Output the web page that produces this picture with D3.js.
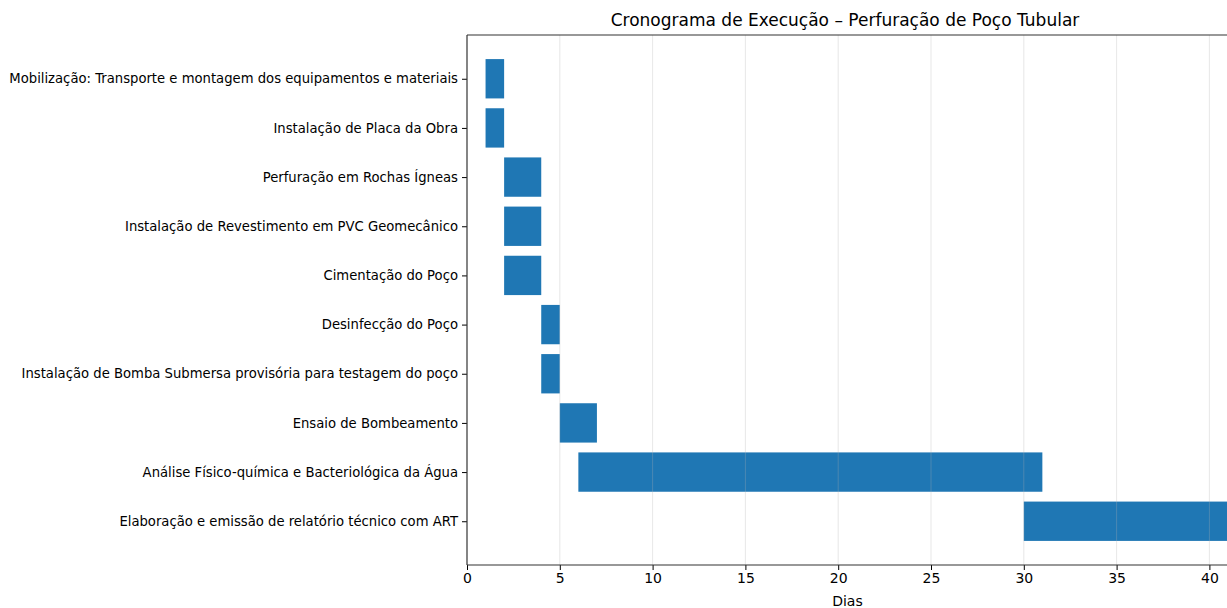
<!DOCTYPE html>
<html>
<head>
<meta charset="utf-8">
<script src="https://cdn.jsdelivr.net/npm/d3@7"></script>
<style>
  body { margin: 0; background: #fff; }
  svg { display: block; font-family: "DejaVu Sans", sans-serif; }
</style>
</head>
<body>
<div id="chart"></div>
<script>
// tarefas do cronograma (dias)
var tasks = [
  "Mobilização: Transporte e montagem dos equipamentos e materiais",
  "Instalação de Placa da Obra",
  "Perfuração em Rochas Ígneas",
  "Instalação de Revestimento em PVC Geomecânico",
  "Cimentação do Poço",
  "Desinfecção do Poço",
  "Instalação de Bomba Submersa provisória para testagem do poço",
  "Ensaio de Bombeamento",
  "Análise Físico-química e Bacteriológica da Água",
  "Elaboração e emissão de relatório técnico com ART"
];
var starts    = [1, 1, 2, 2, 2, 4, 4, 5, 6, 30];
var durations = [1, 1, 2, 2, 2, 1, 1, 2, 25, 15];
var xTicks = [0, 5, 10, 15, 20, 25, 30, 35, 40];

var W = 1227, H = 608;
var plotLeft = 467, plotTop = 35, plotBottom = 565;
var pxPerDay = 18.56;
var xMax = 47;

var svg = d3.select("#chart").append("svg")
  .attr("width", W)
  .attr("height", H);

var x = d3.scaleLinear()
  .domain([0, xMax])
  .range([plotLeft, plotLeft + xMax * pxPerDay]);

// eixo y invertido, margens de 5%
var y = d3.scaleLinear()
  .domain([-0.89, tasks.length - 1 + 0.89])
  .range([plotTop, plotBottom]);

var barH = 0.8;

// barras
svg.append("g")
  .selectAll("rect")
  .data(tasks)
  .enter().append("rect")
    .attr("x", function(d, i) { return x(starts[i]); })
    .attr("y", function(d, i) { return y(i - barH / 2); })
    .attr("width", function(d, i) { return x(starts[i] + durations[i]) - x(starts[i]); })
    .attr("height", y(barH) - y(0))
    .attr("fill", "#1f77b4");

// grade por cima, bem clara
svg.append("g")
  .selectAll("line")
  .data(xTicks.filter(function(t) { return t > 0; }))
  .enter().append("line")
    .attr("x1", function(d) { return x(d); })
    .attr("x2", function(d) { return x(d); })
    .attr("y1", plotTop)
    .attr("y2", plotBottom)
    .attr("stroke", "#b0b0b0")
    .attr("stroke-opacity", 0.3)
    .attr("stroke-width", 1);

// eixo x
var xAxis = svg.append("g")
  .attr("transform", "translate(0," + plotBottom + ")")
  .call(d3.axisBottom(x).tickValues(xTicks).tickSize(5).tickPadding(3));
xAxis.select(".domain").remove();
xAxis.selectAll("text").attr("font-size", 14).attr("fill", "#000").attr("font-family", "DejaVu Sans");
xAxis.selectAll("line").attr("stroke", "#000");

// eixo y
var yAxis = svg.append("g")
  .attr("transform", "translate(" + plotLeft + ",0)")
  .call(d3.axisLeft(y).tickValues(d3.range(tasks.length))
    .tickFormat(function(i) { return tasks[i]; })
    .tickSize(5).tickPadding(4));
yAxis.select(".domain").remove();
yAxis.selectAll("text").attr("font-size", 13.2).attr("fill", "#000").attr("font-family", "DejaVu Sans");
yAxis.selectAll("line").attr("stroke", "#000");

// bordas
svg.append("line")
  .attr("x1", plotLeft).attr("x2", W).attr("y1", plotTop).attr("y2", plotTop)
  .attr("stroke", "#333").attr("stroke-width", 1.2);
svg.append("line")
  .attr("x1", plotLeft).attr("x2", W).attr("y1", plotBottom).attr("y2", plotBottom)
  .attr("stroke", "#333").attr("stroke-width", 1.2);
svg.append("line")
  .attr("x1", plotLeft).attr("x2", plotLeft).attr("y1", plotTop).attr("y2", plotBottom)
  .attr("stroke", "#333").attr("stroke-width", 1.2);

// título
svg.append("text")
  .attr("x", 845)
  .attr("y", 26)
  .attr("text-anchor", "middle")
  .attr("font-size", 17)
  .attr("fill", "#000")
  .text("Cronograma de Execução – Perfuração de Poço Tubular");

// rótulo x
svg.append("text")
  .attr("x", x(20.5))
  .attr("y", 606)
  .attr("text-anchor", "middle")
  .attr("font-size", 14)
  .attr("fill", "#000")
  .text("Dias");
</script>
</body>
</html>
